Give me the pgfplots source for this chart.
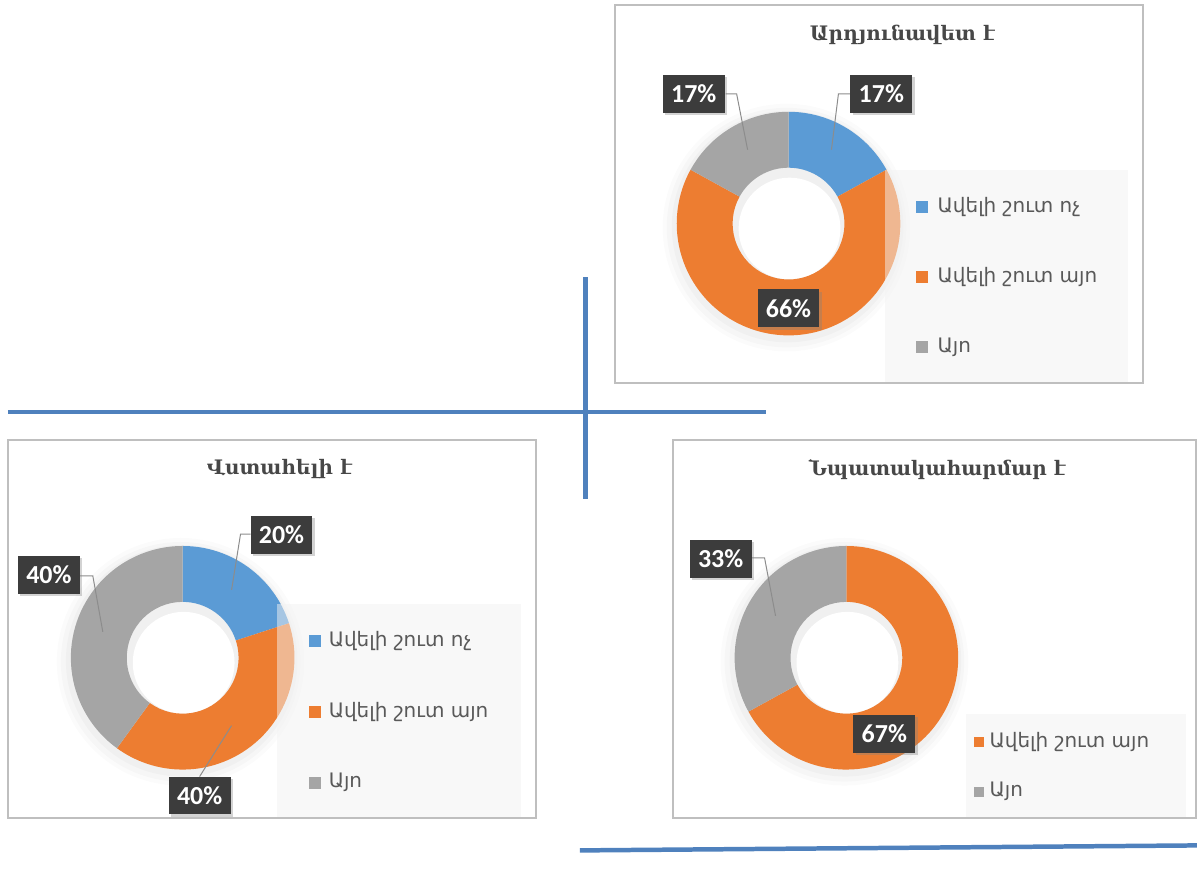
\documentclass[border=0pt]{standalone}
\usepackage{pgfplots}
\pgfplotsset{compat=1.18}
\usepackage{fontspec}
\setmainfont{DejaVu Sans}
\newfontfamily\titlefont{DejaVu Serif}
\newfontfamily\labelfont{Carlito}
\usetikzlibrary{shadows}
\definecolor{cblue}{HTML}{5B9BD5}
\definecolor{corange}{HTML}{ED7D31}
\definecolor{cgrey}{HTML}{A5A5A5}
\definecolor{lineblue}{HTML}{4F81BD}
\definecolor{framegrey}{HTML}{BFBFBF}
\definecolor{lblbox}{HTML}{3C3C3C}
\definecolor{legbg}{HTML}{F2F2F2}
\definecolor{txtgrey}{HTML}{595959}
\definecolor{leader}{HTML}{8C8C8C}
% sector: cx, cy, start (percent), value (percent), colour
\newcommand\sector[5]{%
  \fill[#5] (axis cs:{#1+112*sin(3.6*(#3))},{#2-112*cos(3.6*(#3))})
    arc[start angle={90-3.6*(#3)}, end angle={90-3.6*(#3+#4)}, radius=56pt]
    -- (axis cs:{#1+56*sin(3.6*(#3+#4))},{#2-56*cos(3.6*(#3+#4))})
    arc[start angle={90-3.6*(#3+#4)}, end angle={90-3.6*(#3)}, radius=28pt] -- cycle;}
\newcommand\donutshadow[2]{%
  \fill[black,opacity=0.015] (axis cs:#1-2,#2+4) circle[radius=62pt];
  \fill[black,opacity=0.02] (axis cs:#1-2,#2+4) circle[radius=60pt];
  \fill[black,opacity=0.025] (axis cs:#1-1,#2+3) circle[radius=58pt];
  \fill[white] (axis cs:#1,#2) circle[radius=28pt];
  \fill[black,opacity=0.06] (axis cs:#1,#2) circle[radius=28pt];
  \fill[white] (axis cs:#1+1,#2+5) circle[radius=25.5pt];}
\tikzset{lbl/.style={fill=lblbox, text=white, font=\labelfont\bfseries\fontsize{13}{15}\selectfont,
  minimum width=31pt, minimum height=19pt, inner sep=0pt,
  drop shadow={opacity=0.35, shadow xshift=1.2pt, shadow yshift=-1.2pt}},
  ttl/.style={font=\titlefont\bfseries\fontsize{10}{12}\selectfont, text=txtgrey!80!black},
  leg/.style={anchor=west, font=\fontsize{10}{12}\selectfont, text=txtgrey, inner sep=0pt}}
\begin{document}
\begin{tikzpicture}
\begin{axis}[x=0.5pt, y=0.5pt, xmin=0, xmax=1199, ymin=0, ymax=877, y dir=reverse,
  scale only axis, hide axis, xtick=\empty, ytick=\empty, clip=false]
\path (axis cs:0,0) rectangle (axis cs:1199,877);
% panel frames
\draw[framegrey, line width=1pt] (axis cs:616,5) rectangle (axis cs:1145,384);
\draw[framegrey, line width=1pt] (axis cs:8,441) rectangle (axis cs:537,820);
\draw[framegrey, line width=1pt] (axis cs:674,441) rectangle (axis cs:1198,820);
% titles
\node[ttl] at (axis cs:904,35) {Արդյունավետ է};
\node[ttl] at (axis cs:280,470) {Վստահելի է};
\node[ttl] at (axis cs:939,470) {Նպատակահարմար է};
% ---- chart 1: Արդյունավետ է (17, 66, 17)
\donutshadow{790}{224}
\sector{790}{224}{0}{17}{cblue}
\sector{790}{224}{17}{66}{corange}
\sector{790}{224}{83}{17}{cgrey}
% ---- chart 2: Վստահելի է (20, 40, 40)
\donutshadow{183}{659}
\sector{183}{659}{0}{20}{cblue}
\sector{183}{659}{20}{40}{corange}
\sector{183}{659}{60}{40}{cgrey}
% ---- chart 3: Նպատակահարմար է (0, 67, 33)
\donutshadow{848}{659}
\sector{848}{659}{0}{67}{corange}
\sector{848}{659}{67}{33}{cgrey}
% legend backgrounds (semi-transparent)
\fill[legbg, opacity=0.5] (axis cs:887,170) rectangle (axis cs:1130,383);
\fill[legbg, opacity=0.5] (axis cs:278,605) rectangle (axis cs:522,819);
\fill[legbg, opacity=0.5] (axis cs:968,715) rectangle (axis cs:1188,819);
% legends
\fill[cblue] (axis cs:918,201) rectangle (axis cs:930,213);
\node[leg] at (axis cs:939,207) {Ավելի շուտ ոչ};
\fill[corange] (axis cs:918,272) rectangle (axis cs:930,284);
\node[leg] at (axis cs:939,278) {Ավելի շուտ այո};
\fill[cgrey] (axis cs:918,342) rectangle (axis cs:930,354);
\node[leg] at (axis cs:939,348) {Այո};
\fill[cblue] (axis cs:310,636) rectangle (axis cs:322,648);
\node[leg] at (axis cs:329,642) {Ավելի շուտ ոչ};
\fill[corange] (axis cs:310,707) rectangle (axis cs:322,719);
\node[leg] at (axis cs:329,713) {Ավելի շուտ այո};
\fill[cgrey] (axis cs:310,778) rectangle (axis cs:322,790);
\node[leg] at (axis cs:329,784) {Այո};
\fill[corange] (axis cs:976,738) rectangle (axis cs:986,748);
\node[leg] at (axis cs:991,743) {Ավելի շուտ այո};
\fill[cgrey] (axis cs:976,788) rectangle (axis cs:986,798);
\node[leg] at (axis cs:991,793) {Այո};
% leader lines
\draw[leader, line width=0.5pt] (axis cs:852,94) -- (axis cs:840,94) -- (axis cs:833,150);
\draw[leader, line width=0.5pt] (axis cs:727,94) -- (axis cs:738,94) -- (axis cs:749,150);
\draw[leader, line width=0.5pt] (axis cs:251,535) -- (axis cs:241,535) -- (axis cs:232,591);
\draw[leader, line width=0.5pt] (axis cs:80,577) -- (axis cs:93,577) -- (axis cs:103,633);
\draw[leader, line width=0.5pt] (axis cs:200,778) -- (axis cs:232,727);
\draw[leader, line width=0.5pt] (axis cs:753,559) -- (axis cs:766,559) -- (axis cs:777,617);
% data labels
\node[lbl] at (axis cs:883,94) {17\%};
\node[lbl] at (axis cs:695,94) {17\%};
\node[lbl] at (axis cs:790,309) {66\%};
\node[lbl] at (axis cs:282,536) {20\%};
\node[lbl] at (axis cs:49,576) {40\%};
\node[lbl] at (axis cs:200,797) {40\%};
\node[lbl] at (axis cs:722,560) {33\%};
\node[lbl] at (axis cs:886,735) {67\%};
% blue lines
\draw[lineblue, line width=2.25pt] (axis cs:586.5,278) -- (axis cs:586.5,500);
\draw[lineblue, line width=2.25pt] (axis cs:8,413) -- (axis cs:767,413);
\draw[lineblue, line width=2.25pt] (axis cs:581,852) -- (axis cs:1199,847);
\end{axis}
\end{tikzpicture}
\end{document}
